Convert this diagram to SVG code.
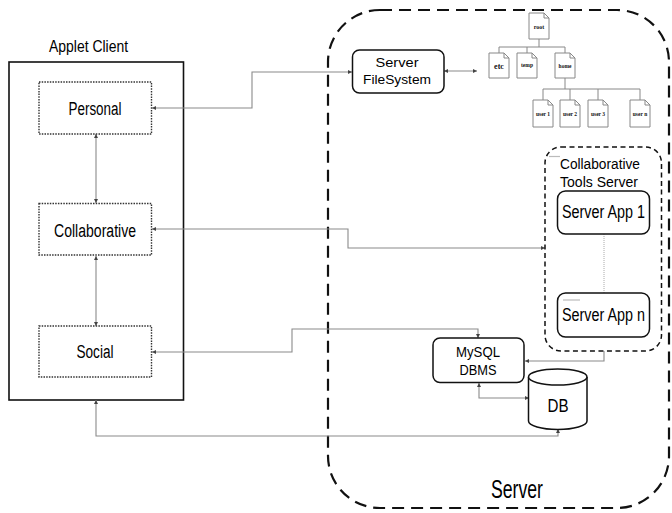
<svg xmlns="http://www.w3.org/2000/svg" width="672" height="513" viewBox="0 0 672 513">
<defs>
<marker id="a" viewBox="0 0 6 6" refX="6" refY="3" markerWidth="4" markerHeight="4" markerUnits="userSpaceOnUse" orient="auto-start-reverse">
<path d="M0,0 L6,3 L0,6 z" fill="#444"/>
</marker>
<style>
.t{font-family:"Liberation Sans",Arial,sans-serif;fill:#000}
.c{fill:none;stroke:#8a8a8a;stroke-width:1.1;marker-start:url(#a);marker-end:url(#a)}
.dot{fill:#fff;stroke:#333;stroke-width:1.4;stroke-dasharray:1.5 1.2}
.rr{fill:#fff;stroke:#111;stroke-width:1.5}
.doc{fill:#fff;stroke:#888;stroke-width:1}
.dt{font-family:"Liberation Serif",serif;font-weight:bold;fill:#111;text-anchor:middle}
.tl{fill:none;stroke:#888;stroke-width:1}
</style>
</defs>
<rect width="672" height="513" fill="#fff"/>

<g id="server">
<rect x="328" y="10" width="341" height="498" rx="52" ry="52" fill="none" stroke="#111" stroke-width="2.2" stroke-dasharray="12 7"/>
<text class="t" x="517" y="498" font-size="25" text-anchor="middle" textLength="52" lengthAdjust="spacingAndGlyphs">Server</text>
</g>

<g id="applet-client">
<text class="t" x="88.5" y="51.5" font-size="16" text-anchor="middle" textLength="79" lengthAdjust="spacingAndGlyphs">Applet Client</text>
<rect x="9" y="62" width="174.5" height="338" fill="none" stroke="#111" stroke-width="1.6"/>
</g>

<g id="connectors">
<path class="c" d="M96,134 V203"/>
<path class="c" d="M96,256 V326"/>
<path class="c" d="M152,108 H252 V72 H352"/>
<path class="c" d="M444,71 H477"/>
<path class="c" d="M152,229 H348 V248 H545"/>
<path class="c" d="M152,352 H292 V329 H478 V338"/>
<path class="c" d="M604,351 V361 H525" style="marker-start:none"/>
<path class="c" d="M479,383 V398 H529"/>
<path class="c" d="M96,400 V436 H558 V429"/>
<path d="M604,234 V293" fill="none" stroke="#aaa" stroke-width="1" stroke-dasharray="1 1"/>
</g>

<g id="personal">
<rect class="dot" x="39" y="82" width="112.5" height="52"/>
<text class="t" x="95" y="115" font-size="18" text-anchor="middle" textLength="53" lengthAdjust="spacingAndGlyphs">Personal</text>
</g>
<g id="collaborative">
<rect class="dot" x="39" y="203.5" width="112.5" height="51.5"/>
<text class="t" x="95" y="237" font-size="18" text-anchor="middle" textLength="82" lengthAdjust="spacingAndGlyphs">Collaborative</text>
</g>
<g id="social">
<rect class="dot" x="39" y="326" width="112.5" height="51"/>
<text class="t" x="95" y="358" font-size="18" text-anchor="middle" textLength="37" lengthAdjust="spacingAndGlyphs">Social</text>
</g>

<g id="server-filesystem">
<rect class="rr" x="352.5" y="50" width="91.5" height="43" rx="7"/>
<text class="t" x="397" y="66.5" font-size="13.5" text-anchor="middle" textLength="43" lengthAdjust="spacingAndGlyphs">Server</text>
<text class="t" x="397" y="84" font-size="13.5" text-anchor="middle" textLength="68" lengthAdjust="spacingAndGlyphs">FileSystem</text>
</g>

<g id="file-tree">
<path class="tl" d="M539,39 V47 M499,47 H565 M499,47 V53 M527,47 V53 M565,47 V53 M565,78 V89 M543,89 H640 M543,89 V100 M570,89 V100 M598,89 V100 M640,89 V100"/>
<path class="doc" d="M529,13 h15 l5,5 v21 h-20 z M544,13 v5 h5"/>
<text class="dt" x="539" y="29" font-size="6">root</text>
<path class="doc" d="M489,53 h15 l5,5 v20 h-20 z M504,53 v5 h5"/>
<text class="dt" x="499" y="69" font-size="8">etc</text>
<path class="doc" d="M517,53 h15 l5,5 v20 h-20 z M532,53 v5 h5"/>
<text class="dt" x="527" y="67" font-size="5.5">temp</text>
<path class="doc" d="M555,53 h15 l5,5 v20 h-20 z M570,53 v5 h5"/>
<text class="dt" x="565" y="68" font-size="5.5">home</text>
<path class="doc" d="M533,100 h15 l5,5 v22 h-20 z M548,100 v5 h5"/>
<text class="dt" x="543" y="116" font-size="5.5">user 1</text>
<path class="doc" d="M560,100 h15 l5,5 v22 h-20 z M575,100 v5 h5"/>
<text class="dt" x="570" y="116" font-size="5.5">user 2</text>
<path class="doc" d="M588,100 h15 l5,5 v22 h-20 z M603,100 v5 h5"/>
<text class="dt" x="598" y="116" font-size="5.5">user 3</text>
<path class="doc" d="M630,100 h15 l5,5 v22 h-20 z M645,100 v5 h5"/>
<text class="dt" x="640" y="116" font-size="5.5">user n</text>
</g>

<g id="collaborative-tools-server">
<rect x="545" y="147" width="116.5" height="204" rx="16" fill="none" stroke="#111" stroke-width="1.5" stroke-dasharray="5 3.5"/>
<path d="M549,156.5 H560" stroke="#bbb" stroke-width="1.2"/>
<text class="t" x="560" y="168.5" font-size="14" textLength="80" lengthAdjust="spacingAndGlyphs">Collaborative</text>
<text class="t" x="560" y="186.5" font-size="14" textLength="78" lengthAdjust="spacingAndGlyphs">Tools Server</text>
</g>
<g id="server-app-1">
<rect class="rr" x="557.5" y="191" width="92" height="43" rx="8"/>
<text class="t" x="603.5" y="217.5" font-size="18" text-anchor="middle" textLength="83" lengthAdjust="spacingAndGlyphs">Server App 1</text>
</g>
<g id="server-app-n">
<rect class="rr" x="557.5" y="293" width="92" height="44" rx="8"/>
<path d="M563,300 H580" stroke="#bbb" stroke-width="1.2"/>
<text class="t" x="603.5" y="321" font-size="18" text-anchor="middle" textLength="83" lengthAdjust="spacingAndGlyphs">Server App n</text>
</g>

<g id="mysql-dbms">
<rect class="rr" x="433" y="338" width="91" height="44.5" rx="7"/>
<text class="t" x="478" y="356.5" font-size="14.5" text-anchor="middle" textLength="44" lengthAdjust="spacingAndGlyphs">MySQL</text>
<text class="t" x="478" y="374.5" font-size="14.5" text-anchor="middle" textLength="37" lengthAdjust="spacingAndGlyphs">DBMS</text>
</g>

<g id="db">
<path d="M528.5,377 V421 A29.25,8.5 0 0 0 587,421 V377" fill="#fff" stroke="#111" stroke-width="1.5"/>
<ellipse cx="557.75" cy="377" rx="29.25" ry="8" fill="#fff" stroke="#111" stroke-width="1.5"/>
<text class="t" x="558" y="412" font-size="18" text-anchor="middle" textLength="21" lengthAdjust="spacingAndGlyphs">DB</text>
</g>
</svg>
